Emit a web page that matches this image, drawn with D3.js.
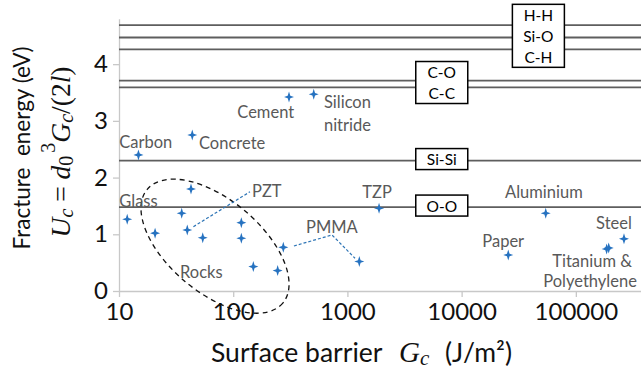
<!DOCTYPE html>
<html><head><meta charset="utf-8">
<script src="https://cdn.jsdelivr.net/npm/d3@7"></script>
<style>html,body{margin:0;padding:0;background:#fff;}svg{display:block;}</style>
</head><body>
<svg id="c" width="641" height="374"></svg>
<script>
// ---- data ----
const xTicks = [10, 100, 1000, 10000, 100000];
const yTicks = [0, 1, 2, 3, 4];
const pointGc = [14.8, 43.8, 42.7, 11.8, 35.4, 20.7, 39.6, 54.1, 117.8, 117.8, 274.6, 150, 245, 308, 507, 1271, 1892, 54500, 25600, 186000, 194000, 264000];
const pointU  = [2.40, 2.75, 1.80, 1.265, 1.37, 1.02, 1.076, 0.94, 1.205, 0.93, 0.77, 0.43, 0.36, 3.42, 3.47, 0.52, 1.46, 1.37, 0.635, 0.74, 0.76, 0.92];
const bondNames = ["H-H", "Si-O", "C-H", "C-O", "C-C", "Si-Si", "O-O"];
const bondEnergy = [4.69, 4.47, 4.26, 3.71, 3.59, 2.30, 1.48];
const bondBoxes = [[["H-H","Si-O","C-H"], 47000], [["C-O","C-C"], 6700], [["Si-Si"], 6700], [["O-O"], 6700]];
const labelText = ["Carbon","Concrete","Cement","Silicon","nitride","Glass","PZT","Rocks","PMMA","TZP","Aluminium","Paper","Steel","Titanium &","Polyethylene"];
const labelGc   = [10.06, 50.2, 108.6, 623, 623, 10.06, 146, 34.2, 434, 1349, 23990, 15170, 150300, 62200, 51900];
const labelU    = [2.63, 2.605, 3.16, 3.34, 2.93, 1.59, 1.77, 0.34, 1.134, 1.74, 1.74, 0.88, 1.194, 0.53, 0.185];
const leaderPZT  = [[44.8, 1.134], [140.3, 1.75]];
const leaderPMMA = [[340, 0.794], [733, 0.988], [1166, 0.577]];
const rocksCenter = [69.3, 0.79];

// ---- chart ----
const svg = d3.select("#c");
const x = d3.scaleLog().domain([10, 372000]).range([119, 641]);
const y = d3.scaleLinear().domain([0, 4.8]).range([291, 18.8]);
const labelFont = "Lato, 'Open Sans', sans-serif";

// axes
const xAxis = svg.append("g").attr("transform", "translate(0,291)")
  .call(d3.axisBottom(x).tickValues(xTicks).tickFormat(d3.format("d")).tickSize(6).tickSizeOuter(0));
const yAxis = svg.append("g").attr("transform", "translate(119,0)")
  .call(d3.axisLeft(y).tickValues(yTicks).tickFormat(d3.format("d")).tickSize(6).tickSizeOuter(0));
[xAxis, yAxis].forEach(g => {
  g.select(".domain").attr("stroke", "#c8c8c8").attr("stroke-width", 1.3);
  g.selectAll(".tick line").attr("stroke", "#c8c8c8").attr("stroke-width", 1.3);
  g.selectAll(".tick text").attr("fill", "#111").attr("font-family", labelFont).attr("font-size", 24);
});
xAxis.selectAll(".tick text").attr("dy", "0.82em");
yAxis.selectAll(".tick text").attr("x", -11);

// bond lines
svg.append("g").selectAll("line").data(bondEnergy).join("line")
  .attr("x1", x.range()[0]).attr("x2", x.range()[1])
  .attr("y1", d => y(d)).attr("y2", d => y(d))
  .attr("stroke", "#5e5e5e").attr("stroke-width", 1.8);

// bond boxes
const lineH = 21, boxW = 52;
bondBoxes.forEach(([names, gx]) => {
  const es = names.map(n => bondEnergy[bondNames.indexOf(n)]);
  const cy = y(d3.mean(es)) - 1.5;
  const h = names.length * lineH;
  const g = svg.append("g");
  g.append("rect").attr("x", x(gx) - boxW / 2).attr("y", cy - h / 2)
    .attr("width", boxW).attr("height", h)
    .attr("fill", "#fff").attr("stroke", "#000").attr("stroke-width", 1.5);
  g.selectAll("text").data(names).join("text")
    .attr("x", x(gx)).attr("y", (d, i) => cy - h / 2 + lineH * (i + 0.5))
    .attr("text-anchor", "middle").attr("dominant-baseline", "central")
    .attr("font-family", labelFont).attr("font-size", 15.5).attr("fill", "#000")
    .text(d => d);
});

// rocks ellipse
svg.append("ellipse")
  .attr("cx", 0).attr("cy", 0).attr("rx", 88.5).attr("ry", 46.3)
  .attr("transform", `translate(${x(rocksCenter[0])},${y(rocksCenter[1])}) rotate(40)`)
  .attr("fill", "none").attr("stroke", "#111").attr("stroke-width", 1.3).attr("stroke-dasharray", "5,4");

// leader lines
const lineGen = d3.line().x(d => x(d[0])).y(d => y(d[1]));
[leaderPZT, leaderPMMA].forEach(p => svg.append("path").attr("d", lineGen(p))
  .attr("fill", "none").attr("stroke", "#2e75b6").attr("stroke-width", 1.2).attr("stroke-dasharray", "3,2"));

// labels
svg.append("g").selectAll("text").data(labelText).join("text")
  .attr("x", (d, i) => x(labelGc[i])).attr("y", (d, i) => y(labelU[i]))
  .attr("dominant-baseline", "central")
  .attr("font-family", labelFont).attr("font-size", 16.5).attr("fill", "#595959")
  .text(d => d);

// points (4-point star)
const star = "M0,-5.5L1.3,-1.3L5,0L1.3,1.3L0,5.5L-1.3,1.3L-5,0L-1.3,-1.3Z";
svg.append("g").selectAll("path").data(pointGc).join("path")
  .attr("d", star)
  .attr("transform", (d, i) => `translate(${x(d)},${y(pointU[i])})`)
  .attr("fill", "#2672c0");

// axis titles
const mathFont = "'Liberation Serif', 'DejaVu Serif', serif";
svg.append("text").attr("x", 211).attr("y", 352).attr("dominant-baseline", "central")
  .attr("font-family", labelFont).attr("font-size", 26.5).attr("fill", "#111").text("Surface barrier");
const gt = svg.append("text").attr("x", 399).attr("y", 352).attr("dominant-baseline", "central")
  .attr("font-family", mathFont).attr("font-size", 29).attr("fill", "#111");
gt.append("tspan").attr("font-style", "italic").text("G");
gt.append("tspan").attr("font-style", "italic").attr("font-size", 21).attr("dy", 6).text("c");
svg.append("text").attr("x", 445).attr("y", 352).attr("dominant-baseline", "central")
  .attr("font-family", labelFont).attr("font-size", 26.5).attr("fill", "#111").text("(J/m²)");

svg.append("text").attr("transform", "translate(21,148) rotate(-90)")
  .attr("text-anchor", "middle").attr("dominant-baseline", "central")
  .attr("font-family", labelFont).attr("font-size", 22.5).attr("fill", "#111")
  .attr("xml:space", "preserve").text("Fracture  energy (eV)");
const mt = svg.append("text").attr("transform", "translate(60,152) rotate(-90)")
  .attr("text-anchor", "middle").attr("dominant-baseline", "central")
  .attr("font-family", mathFont).attr("font-size", 27.5).attr("fill", "#111");
mt.append("tspan").attr("font-style", "italic").text("U");
mt.append("tspan").attr("font-style", "italic").attr("font-size", 20).attr("dy", 6).text("c");
mt.append("tspan").attr("dy", -6).attr("xml:space", "preserve").text(" = ");
mt.append("tspan").attr("font-style", "italic").text("d");
mt.append("tspan").attr("font-size", 20).attr("dy", 6).text("0");
mt.append("tspan").attr("font-size", 20).attr("dy", -18).attr("dx", 3).text("3");
mt.append("tspan").attr("font-style", "italic").attr("dy", 12).text("G");
mt.append("tspan").attr("font-style", "italic").attr("font-size", 20).attr("dy", 6).text("c");
mt.append("tspan").attr("dy", -6).text("/(2");
mt.append("tspan").attr("font-style", "italic").text("l");
mt.append("tspan").text(")");
</script>
</body></html>
